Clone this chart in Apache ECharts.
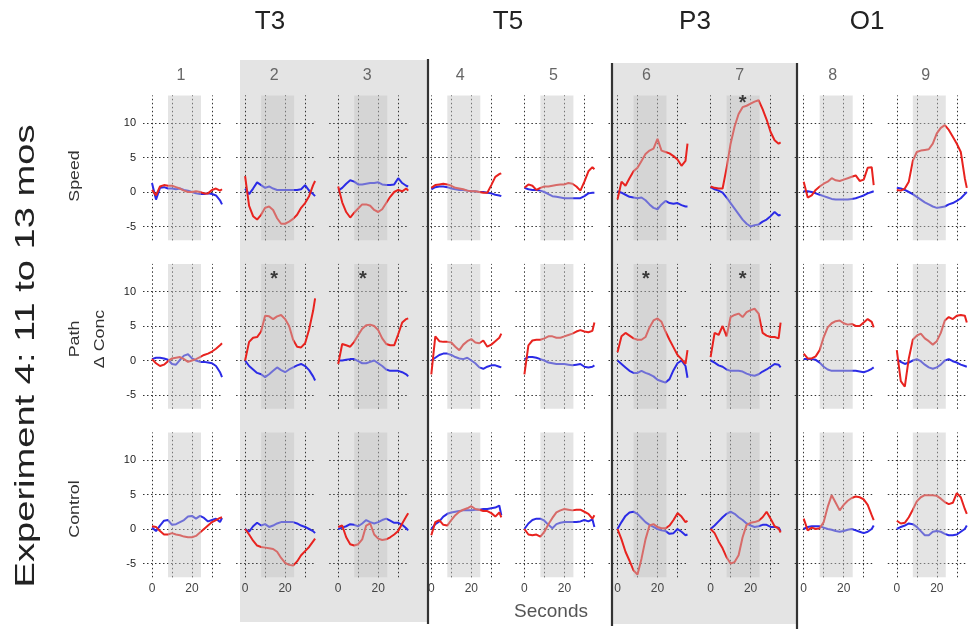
<!DOCTYPE html>
<html><head><meta charset="utf-8">
<script src="https://cdn.jsdelivr.net/npm/echarts@6/dist/echarts.min.js"></script>
<style>html,body{margin:0;padding:0;background:#fff}#c{width:968px;height:629px}</style>
</head><body><div id="c"></div><script>
// ---------- DATA ----------
const seconds = [0,2,4,6,8,10,12,14,16,18,20,22,24,26,28,30,32,34,35];
const panelNumbers = ['1','2','3','4','5','6','7','8','9'];
const groupLabels = ['T3','T5','P3','O1'];
const rowLabels = ['Speed','Path','Control'];
const yTickValues = [-5,0,5,10];
const xTickValues = [0,20];
const gridXLines = [0,10,20,30];
const gridYLines = [-5,0,5,10];
const stimulusWindow = [8,24.5];
// stars: [row, panel, seconds, value]
const stars = [[0,7,16,12.8],[1,2,14.5,11.8],[1,3,12.4,11.8],[1,6,14.2,11.8],[1,7,16,11.8]];

// Row 1: Speed
const sRed1 = [0.3,-0.5,0.8,1.0,0.9,0.9,0.7,0.5,0.2,0,0,0.1,0,-0.2,-0.2,0.3,0.5,0.2,0.4];
const sBlue1 = [1.3,-1.1,0.6,0.7,0.5,0.5,0.4,0.5,0.3,0.2,0,-0.2,-0.3,-0.3,-0.2,-0.3,-0.5,-1.2,-1.8];
const sRed2 = [2.3,-2.0,-3.5,-4.0,-3.3,-2.3,-2.1,-2.6,-3.8,-4.6,-4.6,-4.3,-3.9,-3.3,-2.3,-1.6,-0.6,1.0,1.6];
const sBlue2 = [0.5,-0.3,0.5,1.4,1.0,0.6,0.8,0.5,0.3,0.3,0.3,0.3,0.3,0.3,0.4,1.0,0.2,-0.3,-0.6];
const sRed3 = [0.8,-1.5,-2.9,-3.7,-3.0,-2.4,-1.8,-1.8,-2.0,-2.6,-2.9,-2.5,-1.6,-0.7,0,0.3,0.1,0.5,0.2];
const sBlue3 = [0.2,0.6,1.2,1.7,1.5,1.1,1.1,1.2,1.3,1.3,1.4,1.1,1.0,1.0,1.1,2.0,1.3,0.9,0.8];
const sRed4 = [0.6,1.0,1.1,1.2,1.1,0.9,0.6,0.5,0.4,0.2,0.1,0.1,0,-0.1,-0.1,1.0,2.2,2.6,2.7];
const sBlue4 = [0.4,0.7,0.8,0.8,0.7,0.5,0.4,0.3,0.3,0.2,0.1,0.1,0,0,-0.1,-0.2,-0.4,-0.5,-0.6];
const sRed5 = [0.6,1.1,0.9,0.3,0.6,0.8,0.8,0.9,1.0,1.1,1.1,1.3,1.2,0.8,0.2,1.5,3.0,3.6,3.3];
const sBlue5 = [0.6,0.4,0.3,0.3,0.2,0,-0.3,-0.6,-0.7,-0.8,-0.9,-0.9,-0.9,-0.9,-0.9,-0.6,-0.2,-0.1,-0.1];
const sRed6 = [-1.1,1.5,0.9,2.0,3.0,3.5,4.5,5.5,6.0,6.3,7.7,6.0,5.8,5.6,5.2,4.7,3.8,4.5,7.0];
const sBlue6 = [0.1,-0.1,-0.4,-0.7,-0.8,-0.9,-0.8,-1.2,-1.8,-2.3,-2.5,-1.8,-1.3,-1.6,-1.7,-1.6,-1.9,-2.1,-2.1];
const sRed7 = [0.8,0.6,0.5,0.5,3.5,7.0,9.5,11.3,12.3,12.5,12.8,13.1,13.3,12.0,10.5,8.7,7.5,7.0,7.2];
const sBlue7 = [0.7,0.4,0.2,-0.1,-0.8,-1.6,-2.4,-3.2,-4.0,-4.6,-5.0,-4.8,-4.7,-4.3,-4.0,-3.5,-2.9,-3.4,-3.3];
const sRed8 = [1.5,-0.8,-0.5,0.3,0.8,1.2,1.5,2.0,1.7,1.6,1.8,2.0,2.2,2.4,1.6,1.8,3.5,3.6,1.0];
const sBlue8 = [0.1,0.1,0,-0.2,-0.4,-0.6,-0.8,-1.0,-1.1,-1.1,-1.1,-1.1,-1.0,-0.9,-0.7,-0.5,-0.2,0,0.1];
const sRed9 = [0.3,0.2,0.5,1.5,4.5,5.8,6.0,6.1,6.2,7.0,8.5,9.3,9.7,9.0,8.0,7.0,5.8,2.0,0.6];
const sBlue9 = [0.6,0.5,0.3,0,-0.3,-0.7,-1.1,-1.5,-1.8,-2.1,-2.3,-2.2,-2.1,-1.8,-1.6,-1.3,-0.9,-0.3,0];

// Row 2: Path / Δ Conc
const pRed1 = [0.2,-0.4,-0.8,-0.6,-0.1,0.3,0.4,0.5,0.2,-0.2,0,0.2,0.5,0.8,1.0,1.3,1.7,2.2,2.5];
const pBlue1 = [0.2,0.4,0.4,0.3,0.1,-0.5,-0.6,0.1,0.7,0.9,0.3,0,-0.2,-0.2,-0.3,-0.4,-0.8,-1.7,-2.4];
const pRed2 = [0,2.7,3.3,3.4,4.2,6.5,6.4,6.0,6.4,6.6,6.0,5.0,3.0,2.0,1.9,2.5,4.5,7.2,9.0];
const pBlue2 = [0,-0.8,-1.3,-1.8,-2.0,-2.4,-2.0,-1.5,-1.0,-1.4,-1.7,-1.3,-1.0,-0.7,-0.5,-0.8,-1.4,-2.3,-2.9];
const pRed3 = [-0.5,2.4,2.2,2.0,2.7,3.7,4.6,5.1,5.2,5.0,4.4,3.2,2.4,2.2,2.2,3.8,5.5,6.0,6.1];
const pBlue3 = [0,0,0.1,0.2,0.2,-0.1,-0.4,-0.4,-0.2,0,-0.4,-0.8,-1.3,-1.5,-1.5,-1.5,-1.7,-2.0,-2.3];
const pRed4 = [-2.0,3.5,2.8,2.7,2.7,2.6,2.0,1.5,2.3,2.8,3.1,2.6,2.5,2.9,2.0,2.3,2.8,3.3,3.9];
const pBlue4 = [0,0.4,0.8,1.0,1.0,0.8,0.5,0.3,0.2,0.4,0,-0.4,-1.0,-1.2,-0.9,-0.7,-0.7,-0.9,-1.0];
const pRed5 = [-2.0,2.2,2.9,3.0,3.0,3.2,3.5,3.5,3.3,3.3,3.5,3.7,3.9,4.2,4.4,4.2,4.1,4.3,5.5];
const pBlue5 = [0.2,0.5,0.5,0.4,0.2,0,-0.3,-0.4,-0.5,-0.5,-0.5,-0.6,-0.7,-0.6,-0.5,-0.9,-1.0,-0.9,-0.7];
const pRed6 = [1.2,3.5,4.0,3.6,3.2,3.0,3.0,3.4,4.8,5.8,6.1,5.6,4.2,3.0,1.9,0.8,0.2,-0.5,1.5];
const pBlue6 = [0,-0.5,-1.0,-1.5,-1.8,-1.8,-1.5,-1.8,-2.0,-2.3,-2.8,-3.0,-3.2,-2.7,-1.4,-0.4,0,-0.8,-2.5];
const pRed7 = [0.5,4.0,3.7,5.0,3.5,6.3,6.6,6.8,6.3,7.0,7.3,7.5,6.8,4.0,3.6,3.4,3.4,3.2,5.5];
const pBlue7 = [0,-0.3,-0.7,-0.9,-1.3,-1.5,-1.5,-1.5,-1.6,-1.9,-2.1,-2.2,-2.0,-1.6,-1.3,-0.9,-0.5,-0.6,-1.0];
const pRed8 = [1.0,0.3,0.3,0.6,1.5,3.4,4.8,5.4,5.7,5.8,5.4,5.2,5.3,5.0,5.0,5.5,6.0,5.6,4.8];
const pBlue8 = [0.2,0.2,0.2,0.1,-0.3,-0.9,-1.3,-1.5,-1.5,-1.5,-1.5,-1.5,-1.5,-1.5,-1.6,-1.7,-1.5,-1.2,-1.0];
const pRed9 = [1.5,-3.0,-3.8,0.3,3.0,3.6,3.9,3.2,2.8,2.3,2.8,4.0,5.8,6.3,6.0,6.5,6.6,6.5,5.5];
const pBlue9 = [0.2,-0.2,-0.5,-0.3,0,0.2,-0.1,-0.6,-1.0,-1.2,-1.0,-0.6,0,0.2,-0.1,-0.3,-0.6,-0.8,-0.9];

// Row 3: Control
const cRed1 = [0.4,0.3,-0.3,-0.8,-0.8,-0.6,-0.8,-0.9,-1.1,-1.2,-1.2,-1.0,-0.5,0,0.5,1.0,1.3,1.6,1.7];
const cBlue1 = [0.2,-0.3,0.5,1.2,1.3,0.6,0.7,1.0,1.3,1.8,1.9,1.5,1.9,1.6,1.1,1.3,1.5,1.0,1.6];
const cRed2 = [0,-0.8,-1.7,-2.4,-2.6,-2.7,-2.8,-2.9,-3.3,-4.2,-4.9,-5.2,-5.3,-4.7,-3.8,-3.2,-2.6,-1.8,-1.4];
const cBlue2 = [0,-0.4,0.4,0.9,0.5,0.7,0.3,0.5,0.8,1.0,1.0,1.0,1.0,0.8,0.5,0.3,0,-0.3,-0.6];
const cRed3 = [0.3,0.5,-1.2,-2.2,-2.4,-2.2,-1.5,0.5,0.8,-0.8,-1.4,-1.6,-1.5,-1.2,-0.8,-0.3,0.8,1.8,2.3];
const cBlue3 = [0,0.2,0.4,0.7,0.6,0.4,0.8,1.3,1.0,0.8,1.0,1.3,1.5,1.2,0.9,0.9,0.6,0.1,-0.2];
const cRed4 = [-0.9,1.0,1.3,0.6,0.5,1.3,2.0,2.5,2.8,3.0,3.3,2.9,2.8,2.6,2.6,2.3,1.8,2.4,1.7];
const cBlue4 = [0,0.7,1.1,1.8,2.2,2.4,2.5,2.6,2.7,2.7,2.7,2.8,2.8,2.9,2.9,3.0,3.1,3.4,2.0];
const cRed5 = [0,-0.8,-0.9,-0.8,-1.1,-0.4,0.7,1.6,2.4,2.7,2.9,2.8,2.7,2.8,2.8,2.5,2.2,1.5,2.0];
const cBlue5 = [0,0.8,1.3,1.5,1.5,1.2,0.6,0.1,0.7,0.9,1.0,1.0,1.0,1.0,1.1,1.3,1.1,1.4,0.3];
const cRed6 = [0,-1.5,-3.3,-4.6,-6.0,-6.6,-4.3,-1.5,0.5,0.7,0.3,0.1,0.1,0.5,1.3,2.3,1.8,1.0,1.2];
const cBlue6 = [0,1.0,1.9,2.4,2.5,2.2,1.6,1.0,0.6,0.3,0,-0.2,-0.3,-0.7,-0.6,0,-0.4,-0.9,-0.8];
const cRed7 = [0,-0.6,-1.8,-2.8,-4.1,-5.0,-4.8,-3.8,-1.2,0.6,0.9,1.0,1.2,1.7,2.5,1.5,0.4,0.1,-0.5];
const cBlue7 = [0,0.5,1.1,1.7,2.2,2.5,2.2,1.7,1.3,0.8,0.5,0.3,0.4,0.6,0.6,0.3,0.3,0.2,-0.3];
const cRed8 = [1.5,-0.2,0.2,0,0.1,1.0,3.2,4.9,3.8,2.7,3.5,4.1,4.5,4.7,4.6,4.3,3.5,2.0,1.3];
const cBlue8 = [0,0.3,0.4,0.4,0.4,0.2,0,-0.1,-0.3,-0.4,-0.3,-0.1,0,-0.2,-0.4,-0.6,-0.4,0,0.5];
const cRed9 = [1.2,0.8,0.9,1.7,2.8,4.0,4.6,4.9,4.9,4.9,4.8,4.4,3.9,3.6,3.8,5.2,4.6,2.9,2.2];
const cBlue9 = [0,0.3,0.5,0.8,0.7,0.3,-0.3,-0.9,-0.9,-0.4,-0.3,-0.4,-0.7,-0.9,-0.9,-0.8,-0.4,0,0.5];

// ---------- LAYOUT ----------
const redRows = [
  [sRed1,sRed2,sRed3,sRed4,sRed5,sRed6,sRed7,sRed8,sRed9],
  [pRed1,pRed2,pRed3,pRed4,pRed5,pRed6,pRed7,pRed8,pRed9],
  [cRed1,cRed2,cRed3,cRed4,cRed5,cRed6,cRed7,cRed8,cRed9]];
const blueRows = [
  [sBlue1,sBlue2,sBlue3,sBlue4,sBlue5,sBlue6,sBlue7,sBlue8,sBlue9],
  [pBlue1,pBlue2,pBlue3,pBlue4,pBlue5,pBlue6,pBlue7,pBlue8,pBlue9],
  [cBlue1,cBlue2,cBlue3,cBlue4,cBlue5,cBlue6,cBlue7,cBlue8,cBlue9]];

const X0 = 152, DX = 93.1, XS = 2.0, XMIN = -4.5, XMAX = 35.5;
const Y0 = 192, DY = 168.5, YS = 6.9, YMIN = -7, YMAX = 14;
const RED = '#e8231f', BLUE = '#2b2be6';
const FONT = "'Liberation Sans', Arial, sans-serif";

const grids = [], xAxes = [], yAxes = [], series = [];
let gi = 0;
for (let r = 0; r < 3; r++) {
  for (let k = 0; k < 9; k++) {
    const zeroX = X0 + DX * k, zeroY = Y0 + DY * r;
    grids.push({ left: zeroX + XMIN * XS, width: (XMAX - XMIN) * XS,
                 top: zeroY - YMAX * YS, height: (YMAX - YMIN) * YS, containLabel: false });
    xAxes.push({ gridIndex: gi, type: 'value', min: XMIN, max: XMAX,
      axisLine: {show: false}, axisTick: {show: false}, splitLine: {show: false},
      axisLabel: { show: r === 2, customValues: xTickValues, margin: 5,
                   fontSize: 12, color: '#444', fontFamily: FONT } });
    yAxes.push({ gridIndex: gi, type: 'value', min: YMIN, max: YMAX,
      axisLine: {show: false}, axisTick: {show: false}, splitLine: {show: false},
      axisLabel: { show: k === 0, customValues: yTickValues, margin: 7,
                   fontSize: 11, color: '#222', fontFamily: FONT } });
    // grid lines
    series.push({ type: 'line', xAxisIndex: gi, yAxisIndex: gi, data: [], silent: true,
      markLine: { silent: true, z: 1, symbol: ['none','none'], label: {show: false},
        lineStyle: { type: [1.5, 2.5], color: '#333', width: 1 },
        emphasis: {disabled: true},
        data: gridXLines.map(v => ({xAxis: v})).concat(gridYLines.map(v => ({yAxis: v}))) } });
    // data lines
    series.push({ type: 'line', xAxisIndex: gi, yAxisIndex: gi, showSymbol: false, symbol: 'none',
      z: 2, lineStyle: { color: BLUE, width: 2 }, silent: true,
      data: seconds.map((t, i) => [t, blueRows[r][k][i]]) });
    series.push({ type: 'line', xAxisIndex: gi, yAxisIndex: gi, showSymbol: false, symbol: 'none',
      z: 3, lineStyle: { color: RED, width: 2 }, silent: true,
      data: seconds.map((t, i) => [t, redRows[r][k][i]]) });
    // stimulus band (overlay)
    series.push({ type: 'line', xAxisIndex: gi, yAxisIndex: gi, data: [], silent: true, z: 6,
      markArea: { silent: true, z: 6, itemStyle: { color: 'rgba(195,195,195,0.45)' },
        data: [[{xAxis: stimulusWindow[0]}, {xAxis: stimulusWindow[1]}]] } });
    gi++;
  }
}
// stars
stars.forEach(s => {
  const idx = s[0] * 9 + (s[1] - 1);
  series.push({ type: 'scatter', xAxisIndex: idx, yAxisIndex: idx, z: 10, silent: true,
    symbol: 'circle', symbolSize: 2, itemStyle: {color: 'rgba(0,0,0,0)'},
    label: { show: true, formatter: '*', position: 'inside', fontSize: 20, color: '#111',
             fontFamily: FONT, fontWeight: 'bold' },
    data: [[s[2], s[3]]] });
});

// ---------- DECORATION ----------
const graphics = [
  { type: 'rect', z: -10, shape: {x: 240, y: 60, width: 188, height: 562}, style: {fill: '#e4e4e4'} },
  { type: 'rect', z: -10, shape: {x: 612, y: 63, width: 185, height: 561}, style: {fill: '#e4e4e4'} },
  { type: 'line', z: 20, shape: {x1: 428, y1: 59, x2: 428, y2: 624}, style: {stroke: '#333', lineWidth: 2.2} },
  { type: 'line', z: 20, shape: {x1: 612, y1: 63, x2: 612, y2: 626}, style: {stroke: '#333', lineWidth: 2.2} },
  { type: 'line', z: 20, shape: {x1: 797, y1: 63, x2: 797, y2: 629}, style: {stroke: '#333', lineWidth: 2.2} }
];
const groupX = [270, 508, 695, 867];
groupLabels.forEach((g, i) => graphics.push({ type: 'text', z: 20, x: groupX[i], y: 22,
  style: { text: g, font: '26px ' + FONT, fill: '#222', textAlign: 'center', textVerticalAlign: 'middle', verticalAlign: 'middle' } }));
panelNumbers.forEach((n, k) => graphics.push({ type: 'text', z: 20, x: X0 + DX * k + 29, y: 76,
  style: { text: n, font: '16px ' + FONT, fill: '#666', textAlign: 'center', textVerticalAlign: 'middle', verticalAlign: 'middle' } }));
graphics.push({ type: 'text', z: 20, x: 551, y: 612,
  style: { text: 'Seconds', font: '19px ' + FONT, fill: '#555', textAlign: 'center', textVerticalAlign: 'middle', verticalAlign: 'middle' } });
function vtext(txt, x, y, size, sx, fill) {
  graphics.push({ type: 'text', z: 20, x: x, y: y, rotation: Math.PI / 2, scaleX: sx,
    style: { text: txt, font: size + 'px ' + FONT, fill: fill, textAlign: 'center', textVerticalAlign: 'middle', verticalAlign: 'middle' } });
}
vtext('Experiment 4: 11 to 13 mos', 26, 356, 28, 1.36, '#222');
vtext(rowLabels[0], 75, 176, 14, 1.27, '#333');
vtext(rowLabels[1], 75, 339, 14, 1.27, '#333');
vtext('\u0394 Conc', 100, 339, 14, 1.27, '#333');
vtext(rowLabels[2], 75, 509, 14, 1.27, '#333');

const chart = echarts.init(document.getElementById('c'), null, {renderer: 'canvas'});
chart.setOption({
  animation: false,
  backgroundColor: '#fff',
  grid: grids, xAxis: xAxes, yAxis: yAxes, series: series,
  graphic: graphics
});
</script></body></html>
